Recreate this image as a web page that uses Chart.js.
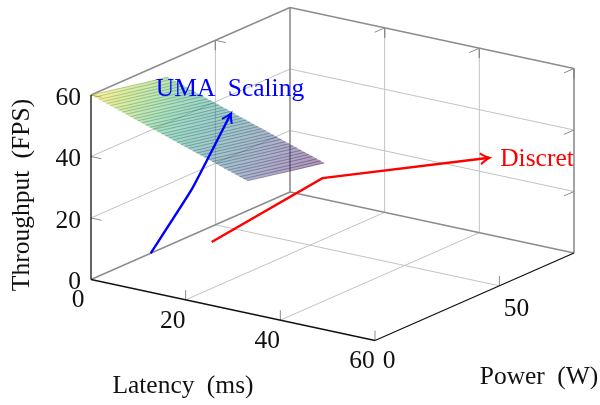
<!DOCTYPE html>
<html lang="en">
<head>
    <meta charset="UTF-8">
    <title>UMA vs Discrete</title>
    <style>
        html, body { margin: 0; padding: 0; background: #fff; }
        canvas { display: block; }
    </style>
</head>
<body>
    <canvas id="chart" width="600" height="405"></canvas>

    <script src="https://cdn.jsdelivr.net/npm/chart.js"></script>
    <script>
        // axis ranges and ticks
        const latencyRange = [0, 60];
        const powerRange = [0, 80];
        const throughputRange = [0, 60];
        const latencyTicks = [0, 20, 40, 60];
        const powerTicks = [0, 50];
        const throughputTicks = [0, 20, 40, 60];

        // surface, one row per latency value
        const surfaceLatency = [0, 0.8, 1.7, 2.5, 3.3, 4.1, 5, 5.8, 6.6, 7.4, 8.3, 9.1, 9.9, 10.7, 11.6, 12.4, 13.2, 14, 14.9, 15.7, 16.5, 17.3, 18.2, 19, 19.8, 20.6, 21.5, 22.3, 23.1, 23.9, 24.8, 25.6, 26.4, 27.2, 28.1, 28.9, 29.7, 30.5, 31.4, 32.2, 33];
        const surfacePower = [0, 10, 20, 31];
        const throughputAtP0 = [60, 59.6, 59.1, 58.7, 58.3, 57.9, 57.4, 57, 56.6, 56.2, 55.7, 55.3, 54.9, 54.5, 54, 53.6, 53.2, 52.8, 52.3, 51.9, 51.5, 51.1, 50.6, 50.2, 49.8, 49.4, 48.9, 48.5, 48.1, 47.7, 47.2, 46.8, 46.4, 46, 45.5, 45.1, 44.7, 44.3, 43.8, 43.4, 43];
        const throughputAtP10 = [58.3, 57.9, 57.4, 57, 56.6, 56.2, 55.7, 55.3, 54.9, 54.5, 54, 53.6, 53.2, 52.8, 52.3, 51.9, 51.5, 51.1, 50.6, 50.2, 49.8, 49.4, 48.9, 48.5, 48.1, 47.7, 47.2, 46.8, 46.4, 46, 45.5, 45.1, 44.7, 44.3, 43.8, 43.4, 43, 42.6, 42.1, 41.7, 41.3];
        const throughputAtP20 = [56.6, 56.2, 55.7, 55.3, 54.9, 54.5, 54, 53.6, 53.2, 52.8, 52.3, 51.9, 51.5, 51.1, 50.6, 50.2, 49.8, 49.4, 48.9, 48.5, 48.1, 47.7, 47.2, 46.8, 46.4, 46, 45.5, 45.1, 44.7, 44.3, 43.8, 43.4, 43, 42.6, 42.1, 41.7, 41.3, 40.9, 40.4, 40, 39.6];
        const throughputAtP31 = [54.8, 54.4, 53.9, 53.5, 53.1, 52.7, 52.2, 51.8, 51.4, 51, 50.5, 50.1, 49.7, 49.3, 48.8, 48.4, 48, 47.6, 47.1, 46.7, 46.3, 45.9, 45.4, 45, 44.6, 44.2, 43.7, 43.3, 42.9, 42.5, 42, 41.6, 41.2, 40.8, 40.3, 39.9, 39.5, 39.1, 38.6, 38.2, 37.8];
        const surfaceColumns = [throughputAtP0, throughputAtP10, throughputAtP20, throughputAtP31];

        // arrows: latency, power, throughput
        const umaLatency = [0, 0, 0];
        const umaPower = [24, 40.6, 56.3];
        const umaThroughput = [0, 15, 34];
        const discreteLatency = [5, 20, 50];
        const discretePower = [39, 55, 65];
        const discreteThroughput = [0, 20, 33];

        const viridis = [[68,1,84],[72,40,120],[62,74,137],[49,104,142],[38,130,142],[31,158,137],[53,183,121],[109,205,89],[180,222,44],[253,231,37]];

        // fixed view of the box, pixels per data unit
        const originPx = [91, 279.5];
        const latencyStep = [284 / 60, 61 / 60];
        const powerStep = [199 / 80, -87.5 / 80];
        const throughputStep = -184.5 / 60;

        function project(l, p, z) {
            return {
                x: originPx[0] + l * latencyStep[0] + p * powerStep[0],
                y: originPx[1] + l * latencyStep[1] + p * powerStep[1] + z * throughputStep
            };
        }

        function viridisColor(t, alpha, shade) {
            const pos = Math.min(Math.max(t, 0), 1) * (viridis.length - 1);
            const i = Math.min(Math.floor(pos), viridis.length - 2);
            const f = pos - i;
            const rgb = viridis[i].map((c, k) => Math.round((c + (viridis[i + 1][k] - c) * f) * shade));
            return `rgba(${rgb[0]}, ${rgb[1]}, ${rgb[2]}, ${alpha})`;
        }

        const ctx = document.getElementById('chart').getContext('2d');
        const datasets = [];

        function addLine(a, b, color, width) {
            datasets.push({
                data: [project(a[0], a[1], a[2]), project(b[0], b[1], b[2])],
                showLine: true, pointRadius: 0, borderColor: color, borderWidth: width, fill: false
            });
        }

        const [lMin, lMax] = latencyRange;
        const [pMin, pMax] = powerRange;
        const [zMin, zMax] = throughputRange;
        const gridColor = '#c2c2c2';
        const boxColor = '#8c8c8c';
        const tickColor = '#8c8c8c';

        // grid on the floor and the two back walls
        throughputTicks.slice(1, -1).forEach(z => {
            addLine([lMin, pMin, z], [lMin, pMax, z], gridColor, 1);
            addLine([lMin, pMax, z], [lMax, pMax, z], gridColor, 1);
        });
        latencyTicks.slice(1, -1).forEach(l => {
            addLine([l, pMin, zMin], [l, pMax, zMin], gridColor, 1);
            addLine([l, pMax, zMin], [l, pMax, zMax], gridColor, 1);
        });
        powerTicks.slice(1).forEach(p => {
            addLine([lMin, p, zMin], [lMax, p, zMin], gridColor, 1);
            addLine([lMin, p, zMin], [lMin, p, zMax], gridColor, 1);
        });

        // back edges of the box
        addLine([lMin, pMin, zMin], [lMin, pMax, zMin], boxColor, 1.4);
        addLine([lMin, pMax, zMin], [lMax, pMax, zMin], boxColor, 1.4);
        addLine([lMin, pMin, zMax], [lMin, pMax, zMax], boxColor, 1.4);
        addLine([lMin, pMax, zMax], [lMax, pMax, zMax], boxColor, 1.4);
        addLine([lMin, pMax, zMin], [lMin, pMax, zMax], boxColor, 1.6);
        addLine([lMax, pMax, zMin], [lMax, pMax, zMax], boxColor, 1.6);

        // small tick marks, lengths in data units
        const lTick = 2.2, pTick = 4, zTick = 3.2;
        latencyTicks.slice(1).forEach(l => {
            addLine([l, pMin, zMin], [l, pMin, zMin + zTick], tickColor, 1);
            addLine([l, pMax, zMax], [l, pMax, zMax - zTick], tickColor, 1);
        });
        powerTicks.slice(1).forEach(p => {
            addLine([lMax, p, zMin], [lMax, p, zMin + zTick], tickColor, 1);
            addLine([lMin, p, zMax], [lMin, p, zMax - zTick], tickColor, 1);
            addLine([lMin, p, zMax], [lMin + lTick, p, zMax], tickColor, 1);
        });
        throughputTicks.slice(1).forEach(z => {
            addLine([lMin, pMin, z], [lMin + lTick, pMin, z], tickColor, 1);
            addLine([lMax, pMax, z], [lMax, pMax - pTick, z], tickColor, 1);
        });
        latencyTicks.slice(1, -1).forEach(l => {
            addLine([l, pMax, zMax], [l, pMax - pTick, zMax], tickColor, 1);
        });

        // surface strips, coloured across the power direction
        const zLow = Math.min(...throughputAtP31);
        const zHigh = Math.max(...throughputAtP0);

        function rowGradient(r, alpha, shade) {
            const a = project(surfaceLatency[r], surfacePower[0], surfaceColumns[0][r]);
            const last = surfacePower.length - 1;
            const b = project(surfaceLatency[r], surfacePower[last], surfaceColumns[last][r]);
            const g = ctx.createLinearGradient(a.x, a.y, b.x, b.y);
            surfacePower.forEach((p, c) => {
                g.addColorStop(p / surfacePower[last], viridisColor((surfaceColumns[c][r] - zLow) / (zHigh - zLow), alpha, shade));
            });
            return g;
        }

        for (let r = 0; r < surfaceLatency.length - 1; r++) {
            const upper = surfacePower.map((p, c) => project(surfaceLatency[r], p, surfaceColumns[c][r]));
            const lower = surfacePower.map((p, c) => project(surfaceLatency[r + 1], p, surfaceColumns[c][r + 1]));
            datasets.push({
                data: [...upper, ...lower.reverse(), upper[0]],
                showLine: true, pointRadius: 0,
                fill: 'shape',
                backgroundColor: rowGradient(r, 0.42, 0.95),
                borderWidth: 0
            });
        }
        surfaceLatency.forEach((l, r) => {
            datasets.push({
                data: surfacePower.map((p, c) => project(l, p, surfaceColumns[c][r])),
                showLine: true, pointRadius: 0, fill: false,
                borderColor: rowGradient(r, 0.6, 0.62),
                borderWidth: 0.7
            });
        });

        // front edges
        addLine([lMin, pMin, zMin], [lMax, pMin, zMin], '#111', 1.3);
        addLine([lMax, pMin, zMin], [lMax, pMax, zMin], '#111', 1.3);
        addLine([lMin, pMin, zMin], [lMin, pMin, zMax], '#111', 1.3);

        const umaPoints = umaLatency.map((l, i) => project(l, umaPower[i], umaThroughput[i]));
        const discretePoints = discreteLatency.map((l, i) => project(l, discretePower[i], discreteThroughput[i]));
        datasets.push({ data: umaPoints, showLine: true, pointRadius: 0, borderColor: '#0000ff', borderWidth: 2.4, fill: false, tension: 0.12 });
        datasets.push({ data: discretePoints, showLine: true, pointRadius: 0, borderColor: '#ff0000', borderWidth: 2.4, fill: false });

        function drawHead(c, scales, pts, color) {
            const a = pts[pts.length - 2], b = pts[pts.length - 1];
            const x0 = scales.x.getPixelForValue(a.x), y0 = scales.y.getPixelForValue(a.y);
            const x1 = scales.x.getPixelForValue(b.x), y1 = scales.y.getPixelForValue(b.y);
            c.save();
            c.translate(x1, y1);
            c.rotate(Math.atan2(y1 - y0, x1 - x0));
            c.strokeStyle = color;
            c.lineWidth = 2;
            c.beginPath();
            c.moveTo(-9, -5.5);
            c.quadraticCurveTo(-3, -1, 0, 0);
            c.quadraticCurveTo(-3, 1, -9, 5.5);
            c.stroke();
            c.restore();
        }

        function drawText(c, text, x, y, font, color, align, angle) {
            c.save();
            c.translate(x, y);
            if (angle) c.rotate(angle);
            c.font = font;
            c.wordSpacing = '6px';
            c.fillStyle = color;
            c.textAlign = align || 'center';
            c.textBaseline = 'middle';
            c.fillText(text, 0, 0);
            c.restore();
        }

        const labelFont = '25.5px "Liberation Serif"';

        const overlay = {
            id: 'overlay',
            afterDatasetsDraw(chart) {
                const { ctx: c, scales } = chart;
                drawHead(c, scales, umaPoints, '#0000ff');
                drawHead(c, scales, discretePoints, '#ff0000');

                latencyTicks.forEach(l => {
                    const pos = project(l, pMin, zMin);
                    drawText(c, String(l), pos.x - 13, pos.y + 21, labelFont, '#111');
                });
                powerTicks.forEach(p => {
                    const pos = project(lMax, p, zMin);
                    drawText(c, String(p), pos.x + (p ? 17 : 14), pos.y + (p ? 23 : 21), labelFont, '#111');
                });
                throughputTicks.forEach(z => {
                    const pos = project(lMin, pMin, z);
                    drawText(c, String(z), pos.x - 10, pos.y + 3, labelFont, '#111', 'right');
                });

                drawText(c, 'Latency (ms)', 183, 386, labelFont, '#111');
                drawText(c, 'Power (W)', 539, 377, labelFont, '#111');
                drawText(c, 'Throughput (FPS)', 22, 195, labelFont, '#111', 'center', -Math.PI / 2);
                drawText(c, 'UMA Scaling', 230, 89, labelFont, '#0000ff');
                drawText(c, 'Discret', 537, 159, labelFont, '#ff0000');
            }
        };

        new Chart(ctx, {
            type: 'scatter',
            data: { datasets: datasets.reverse() },
            options: {
                responsive: false,
                animation: false,
                layout: { padding: 0 },
                plugins: { legend: { display: false }, tooltip: { enabled: false } },
                scales: {
                    x: { type: 'linear', min: 0, max: 600, display: false },
                    y: { type: 'linear', min: 0, max: 405, reverse: true, display: false }
                }
            },
            plugins: [overlay]
        });
    </script>
</body>
</html>
